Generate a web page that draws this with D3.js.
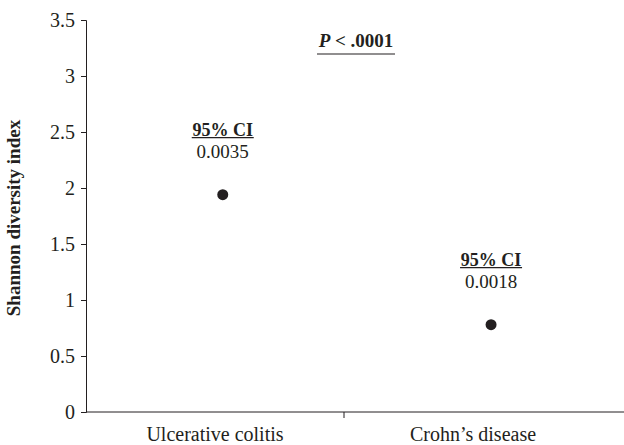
<!DOCTYPE html>
<html>
<head>
<meta charset="utf-8">
<script src="https://cdn.jsdelivr.net/npm/d3@7"></script>
<style>
  body { margin: 0; background: #fff; }
  svg text { font-family: "Liberation Serif", "DejaVu Serif", serif; fill: #231f20; }
</style>
</head>
<body>
<div id="chart"></div>
<script>
// Chart data
const categories = ["Ulcerative colitis", "Crohn\u2019s disease"];
const shannon = [1.94, 0.78];
const pointPos = [0.53, 1.57];         // horizontal place of each dot, in category units
const ciValues = ["0.0035", "0.0018"];
const yTicks = [0, 0.5, 1, 1.5, 2, 2.5, 3, 3.5];

const width = 624, height = 445;
const margin = { top: 20, right: 22, bottom: 33, left: 86 };

const svg = d3.select("#chart")
  .append("svg")
  .attr("width", width)
  .attr("height", height);

// Scales
const x = d3.scaleLinear().domain([0, 2]).range([margin.left, width - margin.right]);
const y = d3.scaleLinear().domain([0, 3.5]).range([height - margin.bottom, margin.top]);

// Y axis
svg.append("g")
  .attr("transform", `translate(${margin.left},0)`)
  .call(d3.axisLeft(y)
    .tickValues(yTicks)
    .tickFormat(d => d)
    .tickSize(5)
    .tickPadding(6))
  .call(g => g.selectAll("path, line").attr("stroke", "#231f20"))
  .selectAll(".tick text")
  .style("font-size", "20px");

// X axis line runs to the right edge
svg.append("line")
  .attr("x1", margin.left)
  .attr("x2", width)
  .attr("y1", y(0))
  .attr("y2", y(0))
  .attr("stroke", "#231f20");

// tick between the two groups
svg.append("line")
  .attr("x1", x(1))
  .attr("x2", x(1))
  .attr("y1", y(0))
  .attr("y2", y(0) + 6)
  .attr("stroke", "#231f20");

// category labels
svg.selectAll(".cat")
  .data(categories)
  .join("text")
  .attr("class", "cat")
  .attr("x", (d, i) => x(i + 0.5))
  .attr("y", y(0) + 29)
  .attr("text-anchor", "middle")
  .style("font-size", "20px")
  .text(d => d);

// Y axis title
svg.append("text")
  .attr("transform", `translate(20,${(y(0) + y(3.5)) / 2 + 2}) rotate(-90)`)
  .attr("text-anchor", "middle")
  .style("font-size", "19px")
  .style("font-weight", "bold")
  .text("Shannon diversity index");

// Points
svg.selectAll(".dot")
  .data(shannon)
  .join("circle")
  .attr("class", "dot")
  .attr("cx", (d, i) => x(pointPos[i]))
  .attr("cy", d => y(d))
  .attr("r", 5.5)
  .attr("fill", "#231f20");

// 95% CI annotations above each point
const ci = svg.selectAll(".ci")
  .data(shannon)
  .join("g")
  .attr("class", "ci")
  .attr("transform", (d, i) => `translate(${x(pointPos[i])},${y(d)})`);

ci.append("text")
  .attr("y", -59)
  .attr("text-anchor", "middle")
  .style("font-size", "18px")
  .style("font-weight", "bold")
  .text("95% CI");

ci.append("line")
  .attr("x1", -31)
  .attr("x2", 31)
  .attr("y1", -57)
  .attr("y2", -57)
  .attr("stroke", "#231f20")
  .attr("stroke-width", 1.2);

ci.append("text")
  .attr("y", -37)
  .attr("text-anchor", "middle")
  .style("font-size", "19px")
  .text((d, i) => ciValues[i]);

// P value
const pText = svg.append("text")
  .attr("x", 356)
  .attr("y", 47)
  .attr("text-anchor", "middle")
  .style("font-size", "19px")
  .style("font-weight", "bold");
pText.append("tspan").style("font-style", "italic").text("P");
pText.append("tspan").text(" < .0001");

svg.append("line")
  .attr("x1", 317)
  .attr("x2", 395)
  .attr("y1", 54)
  .attr("y2", 54)
  .attr("stroke", "#231f20")
  .attr("stroke-width", 1.2);
</script>
</body>
</html>
